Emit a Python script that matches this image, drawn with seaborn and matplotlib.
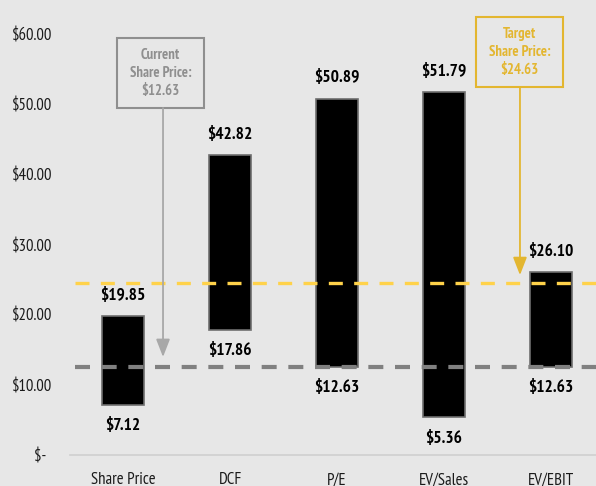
import matplotlib
matplotlib.use("Agg")
import matplotlib.pyplot as plt
from matplotlib import font_manager
from matplotlib.patches import Rectangle
import pandas as pd
import seaborn as sns

# Valuation ranges per method (low / high share price, $)
methods = ["Share Price", "DCF", "P/E", "EV/Sales", "EV/EBIT"]
low_values = [7.12, 17.86, 12.63, 5.36, 12.63]
high_values = [19.85, 42.82, 50.89, 51.79, 26.10]

current_price = 12.63
target_price = 24.63

y_ticks = [0, 10, 20, 30, 40, 50, 60]
y_tick_labels = ["$-  ", "$10.00", "$20.00", "$30.00", "$40.00", "$50.00", "$60.00"]

BG = "#e7e7e7"
GOLD = "#e3b630"
GOLD_LINE = "#ffd24a"
GREY_LINE = "#808080"
GREY_NOTE = "#8f8f8f"

sns.set_theme(style="white")


def _weight(entry):
    w = entry.weight
    if isinstance(w, str):
        return font_manager.weight_dict.get(w, 400)
    return int(w)


# pick a narrow sans family that ships both regular and bold faces
weights = {}
for entry in font_manager.fontManager.ttflist:
    weights.setdefault(entry.name, set()).add(_weight(entry))
narrow_candidates = ["Liberation Sans Narrow", "Arial Narrow", "Archivo Narrow",
                     "PT Sans Narrow", "Roboto Condensed", "Pragati Narrow",
                     "Fira Sans Condensed", "IBM Plex Sans Condensed",
                     "Encode Sans Condensed", "Open Sans Condensed",
                     "Asap Condensed", "Barlow Semi Condensed", "Sofia Sans Condensed",
                     "Archivo Narrow"]
chosen = [f for f in narrow_candidates
          if f in weights and 400 in weights[f] and any(w >= 700 for w in weights[f])][:1]
plt.rcParams["font.family"] = chosen + ["Liberation Sans", "DejaVu Sans"]

df = pd.DataFrame({
    "method": methods,
    "low": low_values,
    "high": high_values,
})
df["span"] = df["high"] - df["low"]

fig = plt.figure(figsize=(5.96, 4.86), dpi=100, facecolor=BG)
ax = fig.add_axes([69.5 / 596, 31 / 486, 535 / 596, 455 / 486])
ax.set_facecolor(BG)

sns.barplot(data=df, x="method", y="span", bottom=df["low"].to_numpy(),
            color="black", edgecolor="#6e6e6e", linewidth=1.2,
            width=0.4, errorbar=None, saturation=1, ax=ax, zorder=2)

ax.set_xlim(-0.5, 4.5)
ax.set_ylim(0, 65)

# reference price lines drawn across the bars
ax.axhline(current_price, xmin=0.01, xmax=1, color=GREY_LINE, lw=3,
           dashes=(3.6, 2.8), zorder=4)
ax.axhline(target_price, xmin=0.01, xmax=1, color=GOLD_LINE, lw=2.4,
           dashes=(4.2, 3.4), zorder=4)

# range labels
for i, (lo, hi) in enumerate(zip(low_values, high_values)):
    ax.annotate(f"${hi:.2f}", (i, hi), xytext=(0, 9), textcoords="offset points",
                ha="center", va="bottom", fontsize=12.5, fontweight="bold",
                color="black", zorder=5)
    ax.annotate(f"${lo:.2f}", (i, lo), xytext=(0, -9.5), textcoords="offset points",
                ha="center", va="top", fontsize=12.5, fontweight="bold",
                color="black", zorder=5)

# callout boxes
def callout(x0, x1, y0, y1, lines, color, arrow_x, arrow_y, arrow_color):
    ax.add_patch(Rectangle((x0, y0), x1 - x0, y1 - y0, fill=False,
                           edgecolor=color, lw=1.5, zorder=5, clip_on=False))
    ax.text((x0 + x1) / 2, (y0 + y1) / 2, lines, ha="center", va="center",
            fontsize=10.5, fontweight="bold", color=color, linespacing=1.35,
            zorder=5)
    ax.annotate("", xy=(arrow_x, arrow_y), xytext=(arrow_x, y0),
                arrowprops=dict(arrowstyle="-|>,head_width=0.35,head_length=0.9",
                                color=arrow_color, lw=1.3, shrinkA=0, shrinkB=0),
                zorder=5)

callout(-0.056, 0.757, 49.57, 59.57, f"Current\nShare Price:\n${current_price:.2f}",
        GREY_NOTE, 0.374, 14.0, "#a8a8a8")
callout(3.299, 4.112, 52.57, 62.57, f"Target\nShare Price:\n${target_price:.2f}",
        GOLD, 3.71, 25.7, GOLD)

ax.set_yticks(y_ticks)
ax.set_yticklabels(y_tick_labels)
ax.set_xlabel("")
ax.set_ylabel("")
ax.tick_params(axis="y", length=0, pad=12.5, labelsize=12, labelcolor="#1a1a1a")
ax.tick_params(axis="x", length=0, pad=12.5, labelsize=12, labelcolor="#1a1a1a")
for side in ["top", "right", "left"]:
    ax.spines[side].set_visible(False)
ax.spines["bottom"].set_color("#d0d0d0")
ax.spines["bottom"].set_linewidth(1.2)

fig.savefig("out.png", dpi=100, facecolor=BG)
